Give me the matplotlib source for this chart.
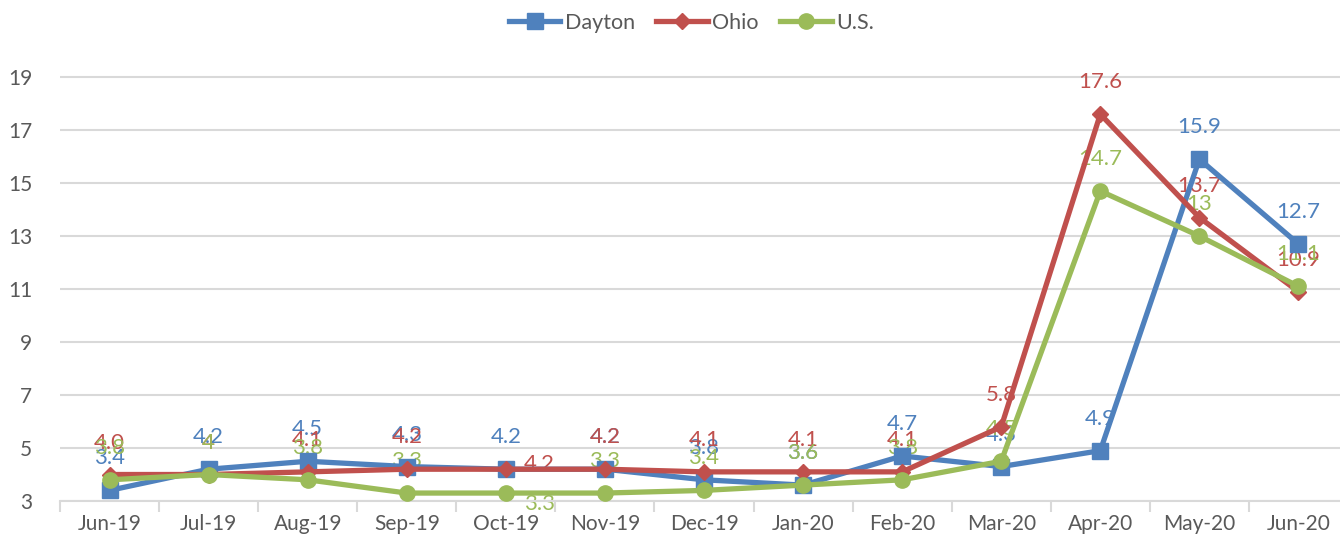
import matplotlib
matplotlib.use("Agg")
from matplotlib import pyplot as plt
from matplotlib.lines import Line2D

months = ['Jun-19', 'Jul-19', 'Aug-19', 'Sep-19', 'Oct-19', 'Nov-19', 'Dec-19',
          'Jan-20', 'Feb-20', 'Mar-20', 'Apr-20', 'May-20', 'Jun-20']
dayton = [3.4, 4.2, 4.5, 4.3, 4.2, 4.2, 3.8, 3.6, 4.7, 4.3, 4.9, 15.9, 12.7]
ohio = [4.0, 4.0, 4.1, 4.2, 4.2, 4.2, 4.1, 4.1, 4.1, 5.8, 17.6, 13.7, 10.9]
us = [3.8, 4.0, 3.8, 3.3, 3.3, 3.3, 3.4, 3.6, 3.8, 4.5, 14.7, 13.0, 11.1]
dayton_lbl = ['3.4', '4.2', '4.5', '4.3', '4.2', '4.2', '3.8', '3.6', '4.7', '4.3', '4.9', '15.9', '12.7']
ohio_lbl = ['4.0', '4', '4.1', '4.2', '4.2', '4.2', '4.1', '4.1', '4.1', '5.8', '17.6', '13.7', '10.9']
us_lbl = ['3.8', '4', '3.8', '3.3', '3.3', '3.3', '3.4', '3.6', '3.8', '4.5', '14.7', '13', '11.1']
yticks = [3, 5, 7, 9, 11, 13, 15, 17, 19]

plt.rcParams['font.family'] = ['Lato', 'DejaVu Sans']

fig = plt.figure(figsize=(13.4, 5.42), dpi=100)
ax = fig.add_axes([60 / 1340, 41 / 542, 1288 / 1340, 461 / 542])

series = [
    ('Dayton', dayton, dayton_lbl, '#4F81BD', 's', 11),
    ('Ohio', ohio, ohio_lbl, '#C0504D', 'D', 8.5),
    ('U.S.', us, us_lbl, '#9BBB59', 'o', 11),
]
x = list(range(len(months)))

# a few labels that Excel moved off the default "above" spot
special = {('Ohio', 4): (24, 4), ('U.S.', 4): (24, -8)}

handles = []
for name, vals, lbls, col, mk, ms in series:
    ax.plot(x, vals, color=col, lw=3.8, marker=mk, ms=ms, zorder=3)
    for i, (v, t) in enumerate(zip(vals, lbls)):
        off = special.get((name, i), (0, 23))
        ax.annotate(t, (i, v), xytext=off, textcoords='offset points',
                    ha='center', va='center', color=col, fontsize=16, zorder=2)
    handles.append(Line2D([0], [0], color=col, lw=3.8, marker=mk, ms=ms))

ax.set_xlim(-0.5, len(months) - 0.5)
ax.set_ylim(3, 20.4)
ax.set_yticks(yticks)
ax.set_xticks(x)
ax.set_xticklabels(months)
ax.set_xticks([i - 0.5 for i in range(len(months) + 1)], minor=True)
ax.grid(axis='y', color='#D9D9D9', lw=1.5, zorder=0)
ax.set_axisbelow(True)
for s in ['top', 'right', 'left']:
    ax.spines[s].set_visible(False)
ax.spines['bottom'].set_color('#D9D9D9')
ax.spines['bottom'].set_linewidth(1.5)
ax.tick_params(axis='both', which='major', length=0, labelsize=15, colors='#595959')
ax.tick_params(axis='x', which='major', pad=9)
ax.tick_params(axis='y', pad=20)
ax.tick_params(axis='x', which='minor', length=8, color='#D9D9D9', width=1.5)

fig.legend(handles, [s[0] for s in series], loc='upper center', bbox_to_anchor=(0.516, 1.012),
           ncol=3, frameon=False, fontsize=15.5, handlelength=2.4, columnspacing=1.0,
           handletextpad=0.2, labelcolor='#595959')

fig.savefig('out.png', dpi=100)
